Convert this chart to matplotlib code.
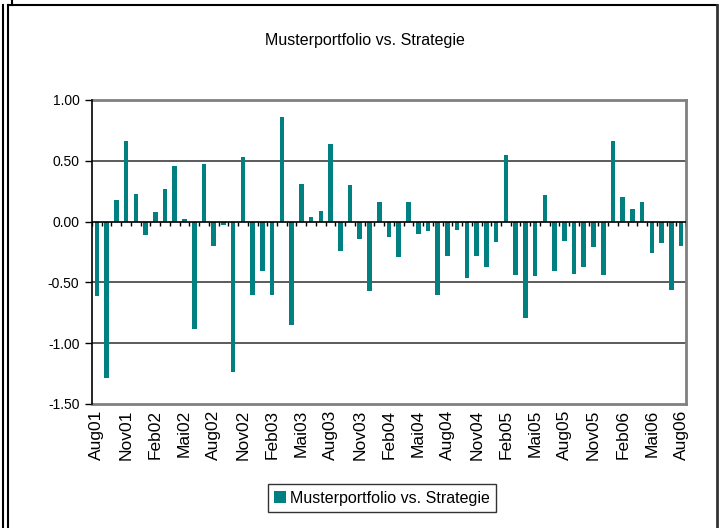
import numpy as np
import matplotlib
matplotlib.use("Agg")
import matplotlib.pyplot as plt
from matplotlib.lines import Line2D

plt.rcParams['font.family'] = ['Liberation Sans', 'DejaVu Sans']

# monthly differences, Aug01 .. Aug06
values = [
    -0.61, -1.29, 0.18, 0.66, 0.23, -0.11, 0.08, 0.27, 0.46, 0.02,
    -0.88, 0.47, -0.20, -0.03, -1.24, 0.53, -0.60, -0.41, -0.60, 0.86,
    -0.85, 0.31, 0.04, 0.09, 0.64, -0.24, 0.30, -0.14, -0.57, 0.16,
    -0.13, -0.29, 0.16, -0.10, -0.08, -0.60, -0.28, -0.07, -0.46, -0.28,
    -0.37, -0.17, 0.55, -0.44, -0.79, -0.45, 0.22, -0.41, -0.16, -0.43,
    -0.37, -0.21, -0.44, 0.66, 0.20, 0.10, 0.16, -0.26, -0.18, -0.56,
    -0.20,
]
tick_labels = ["Aug01", "Nov01", "Feb02", "Mai02", "Aug02", "Nov02", "Feb03",
               "Mai03", "Aug03", "Nov03", "Feb04", "Mai04", "Aug04", "Nov04",
               "Feb05", "Mai05", "Aug05", "Nov05", "Feb06", "Mai06", "Aug06"]
yticks = [1.0, 0.5, 0.0, -0.5, -1.0, -1.5]
series_name = "Musterportfolio vs. Strategie"

fig = plt.figure(figsize=(7.24, 5.28), dpi=100)
ax = fig.add_axes([92 / 724, 124 / 528, 594 / 724, 304 / 528])

x = np.arange(len(values))
ax.bar(x, values, width=0.47, color='#008080', zorder=3, label=series_name)

ax.set_xlim(-0.5, len(values) - 0.5)
ax.set_ylim(-1.5, 1.0)

# gridlines
for v in yticks[1:-1]:
    if v != 0:
        ax.axhline(v, color='#404040', lw=1.2, zorder=1)
ax.axhline(0, color='black', lw=1.2, zorder=4)
# category ticks on the zero line
ax.vlines(np.arange(len(values) + 1) - 0.5, 0, -0.04, color='black', lw=1, zorder=4)

ax.set_yticks(yticks)
ax.set_yticklabels(["%.2f" % v for v in yticks], fontsize=10)
ax.tick_params(axis='y', direction='out', length=5, width=1, pad=4)
ax.set_xticks(x[::3])
ax.set_xticklabels(tick_labels, rotation=90, fontsize=12.5)
ax.tick_params(axis='x', length=0, pad=4)

for side in ['top', 'right', 'bottom']:
    ax.spines[side].set_color('#808080')
    ax.spines[side].set_linewidth(2)
ax.spines['left'].set_color('black')
ax.spines['left'].set_linewidth(1.2)
ax.spines['left'].set_zorder(5)

fig.text(365 / 724, 1 - 41 / 528, series_name, ha='center', va='center', fontsize=11.5)

leg = fig.legend(loc='center', bbox_to_anchor=(382 / 724, 1 - 498 / 528),
                 fontsize=11.5, frameon=True, fancybox=False, handlelength=0.75,
                 handleheight=0.75, handletextpad=0.25, borderpad=0.4)
leg.get_frame().set_edgecolor('black')
leg.get_frame().set_linewidth(1)

# outer frame
fig.add_artist(Line2D([3 / 724, 3 / 724], [0, 1 - 5 / 528], transform=fig.transFigure, color='black', lw=1.5))
fig.add_artist(Line2D([8 / 724, 8 / 724], [0, 1 - 5 / 528], transform=fig.transFigure, color='black', lw=1.5))
fig.add_artist(Line2D([8 / 724, 717 / 724], [1 - 5 / 528, 1 - 5 / 528], transform=fig.transFigure, color='black', lw=1.5))
fig.add_artist(Line2D([717 / 724, 717 / 724], [0, 1 - 5 / 528], transform=fig.transFigure, color='#333333', lw=2))
fig.add_artist(Line2D([12 / 724, 12 / 724], [1, 1 - 5 / 528], transform=fig.transFigure, color='black', lw=1.5))

fig.savefig("out.png", dpi=100)
